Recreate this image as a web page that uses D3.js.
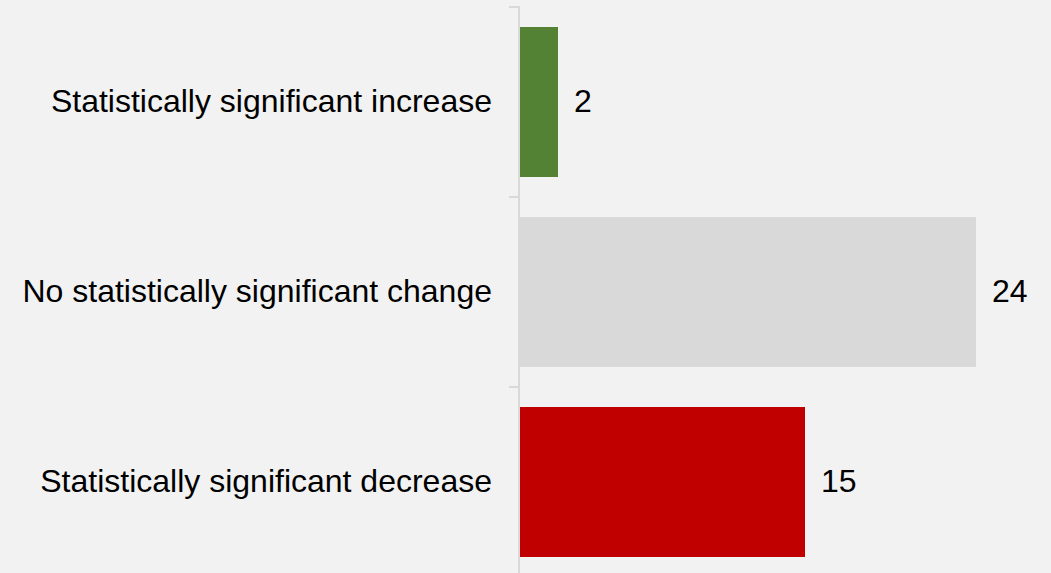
<!DOCTYPE html>
<html><head><meta charset="utf-8">
<script src="https://cdn.jsdelivr.net/npm/d3@7"></script>
<style>html,body{margin:0;padding:0;background:#f2f2f2;}svg{display:block;}</style>
</head><body>
<svg id="chart" width="1051" height="573"></svg>
<script>
const categories = ["Statistically significant increase", "No statistically significant change", "Statistically significant decrease"];
const values = [2, 24, 15];
const colors = ["#548235", "#d9d9d9", "#c00000"];

const svg = d3.select("#chart");
svg.append("rect").attr("width", 1051).attr("height", 573).attr("fill", "#f2f2f2");

const x = d3.scaleLinear().domain([0, 24]).range([520, 976]);
const y = d3.scaleBand().domain(categories).range([7, 577]).paddingInner(40/190).paddingOuter(20/190);

// axis line and ticks at band boundaries
const axisX = 519;
svg.append("line").attr("x1", axisX).attr("x2", axisX).attr("y1", 6).attr("y2", 573)
  .attr("stroke", "#d9d9d9").attr("stroke-width", 2);
const step = y.step();
const bounds = d3.range(categories.length + 1).map(i => y.range()[0] + i * step);
svg.selectAll("line.tick").data(bounds).join("line").attr("class", "tick")
  .attr("x1", 509).attr("x2", axisX).attr("y1", d => d).attr("y2", d => d)
  .attr("stroke", "#d9d9d9").attr("stroke-width", 2);

svg.selectAll("rect.bar").data(values).join("rect").attr("class", "bar")
  .attr("x", x(0)).attr("y", (d, i) => y(categories[i]))
  .attr("width", d => x(d) - x(0)).attr("height", y.bandwidth())
  .attr("fill", (d, i) => colors[i]);

const font = "'Liberation Sans', Arial, sans-serif";
svg.selectAll("text.val").data(values).join("text").attr("class", "val")
  .attr("x", d => x(d) + 16).attr("y", (d, i) => y(categories[i]) + y.bandwidth() / 2)
  .attr("dy", "0.32em").attr("font-family", font).attr("font-size", 32).attr("fill", "#000")
  .text(d => d);

svg.selectAll("text.cat").data(categories).join("text").attr("class", "cat")
  .attr("x", 492).attr("y", d => y(d) + y.bandwidth() / 2)
  .attr("dy", "0.32em").attr("text-anchor", "end").attr("font-family", font).attr("font-size", 32).attr("fill", "#000")
  .text(d => d);
</script>
</body></html>
